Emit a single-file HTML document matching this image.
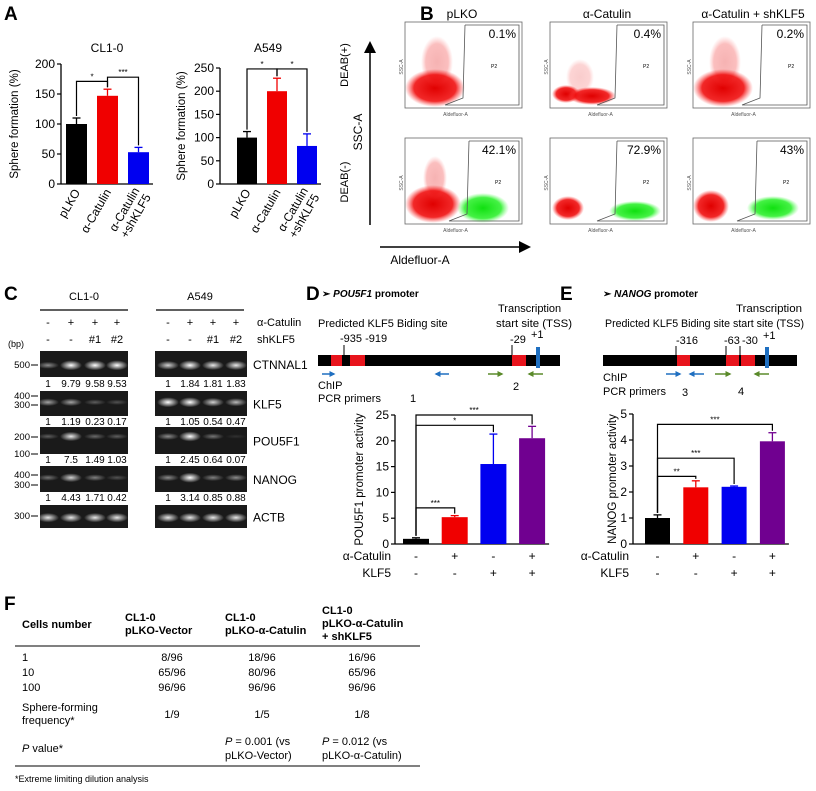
<!DOCTYPE html>
<html><head><meta charset="utf-8"><style>
body{margin:0;background:#fff}
svg{display:block;font-family:"Liberation Sans",Arial,sans-serif}
</style></head><body>
<svg id="fig" width="816" height="791" viewBox="0 0 816 791">
<defs>
<radialGradient id="rg"><stop offset="0" stop-color="#e00000" stop-opacity="1"/><stop offset="0.7" stop-color="#f01010" stop-opacity="0.9"/><stop offset="1" stop-color="#ff4040" stop-opacity="0"/></radialGradient>
<radialGradient id="gg"><stop offset="0" stop-color="#10e010" stop-opacity="1"/><stop offset="0.7" stop-color="#30f030" stop-opacity="0.9"/><stop offset="1" stop-color="#60ff60" stop-opacity="0"/></radialGradient>
<radialGradient id="band"><stop offset="0" stop-color="#fff" stop-opacity="1"/><stop offset="1" stop-color="#fff" stop-opacity="0"/></radialGradient>
<marker id="ah" markerWidth="8" markerHeight="8" refX="6" refY="4" orient="auto"><path d="M0,0 L8,4 L0,8 z" fill="#000"/></marker>
<marker id="ab" markerWidth="4" markerHeight="4" refX="3" refY="2" orient="auto"><path d="M0,0 L4,2 L0,4 z" fill="#1f6fc0"/></marker>
<marker id="ag" markerWidth="4" markerHeight="4" refX="3" refY="2" orient="auto"><path d="M0,0 L4,2 L0,4 z" fill="#5a8a2a"/></marker>
</defs>
<g font-weight="bold" font-size="19">
<text x="4" y="20">A</text>
<text x="420" y="20">B</text>
<text x="4" y="300">C</text>
<text x="306" y="300">D</text>
<text x="560" y="300">E</text>
<text x="4" y="610">F</text>
</g>
<g id="charts"></g>
<g id="flow"></g>
<g>
<line x1="370" y1="225" x2="370" y2="44" stroke="#000" stroke-width="1.5" marker-end="url(#ah)"/>
<line x1="380" y1="247" x2="528" y2="247" stroke="#000" stroke-width="1.5" marker-end="url(#ah)"/>
<text transform="translate(362,132) rotate(-90)" text-anchor="middle" font-size="12">SSC-A</text>
<text transform="translate(348,65) rotate(-90)" text-anchor="middle" font-size="11">DEAB(+)</text>
<text transform="translate(348,182) rotate(-90)" text-anchor="middle" font-size="11">DEAB(-)</text>
<text x="420" y="264" text-anchor="middle" font-size="12">Aldefluor-A</text>
<text x="462" y="18" text-anchor="middle" font-size="12">pLKO</text>
<text x="607" y="18" text-anchor="middle" font-size="12">α-Catulin</text>
<text x="753" y="18" text-anchor="middle" font-size="12">α-Catulin + shKLF5</text>
</g>
<g id="gelC" font-size="11">
<text x="84" y="300" text-anchor="middle">CL1-0</text>
<text x="200" y="300" text-anchor="middle">A549</text>
<line x1="40" y1="310" x2="128" y2="310" stroke="#000" stroke-width="1.2"/>
<line x1="156" y1="310" x2="244" y2="310" stroke="#000" stroke-width="1.2"/>
<text x="257" y="326">α-Catulin</text>
<text x="257" y="343">shKLF5</text>
<text x="8" y="347" font-size="9">(bp)</text>
</g>
<g font-size="11">
<text x="322" y="297" font-size="10" font-weight="bold">➢ <tspan font-style="italic">POU5F1</tspan> promoter</text>
<text x="498" y="312">Transcription</text>
<text x="496" y="327" textLength="76" lengthAdjust="spacingAndGlyphs">start site (TSS)</text>
<text x="318" y="327">Predicted KLF5 Biding site</text>
<text x="340" y="342">-935 -919</text>
<text x="510" y="343">-29</text>
<text x="531" y="338">+1</text>
<line x1="344" y1="345" x2="344" y2="356" stroke="#000"/>
<line x1="512" y1="345" x2="512" y2="356" stroke="#000"/>
<rect x="318" y="355" width="242" height="11" fill="#000"/>
<rect x="331" y="355" width="11" height="11" fill="#e8141c"/>
<rect x="350" y="355" width="15" height="11" fill="#e8141c"/>
<rect x="512" y="355" width="14" height="11" fill="#e8141c"/>
<rect x="536" y="347" width="4" height="21" fill="#1f6fc0"/>
<line x1="322" y1="374" x2="334" y2="374" stroke="#1f6fc0" stroke-width="1.5" marker-end="url(#ab)"/>
<line x1="449" y1="374" x2="436" y2="374" stroke="#1f6fc0" stroke-width="1.5" marker-end="url(#ab)"/>
<line x1="488" y1="374" x2="502" y2="374" stroke="#5a8a2a" stroke-width="1.5" marker-end="url(#ag)"/>
<line x1="543" y1="374" x2="529" y2="374" stroke="#5a8a2a" stroke-width="1.5" marker-end="url(#ag)"/>
<text x="318" y="389">ChIP</text>
<text x="318" y="402">PCR primers</text>
<text x="410" y="402">1</text>
<text x="513" y="390">2</text>
</g>
<g font-size="11">
<text x="603" y="297" font-size="10" font-weight="bold">➢ <tspan font-style="italic">NANOG</tspan> promoter</text>
<text x="736" y="312" textLength="66" lengthAdjust="spacingAndGlyphs">Transcription</text>
<text x="733" y="327" textLength="71" lengthAdjust="spacingAndGlyphs">start site (TSS)</text>
<text x="605" y="327" textLength="125" lengthAdjust="spacingAndGlyphs">Predicted KLF5 Biding site</text>
<text x="676" y="344">-316</text>
<text x="724" y="344">-63</text>
<text x="742" y="344">-30</text>
<text x="763" y="339">+1</text>
<line x1="676" y1="346" x2="676" y2="356" stroke="#000"/>
<line x1="726" y1="346" x2="726" y2="356" stroke="#000"/>
<line x1="740" y1="346" x2="740" y2="356" stroke="#000"/>
<rect x="603" y="355" width="194" height="11" fill="#000"/>
<rect x="677" y="355" width="13" height="11" fill="#e8141c"/>
<rect x="726" y="355" width="13" height="11" fill="#e8141c"/>
<rect x="741" y="355" width="14" height="11" fill="#e8141c"/>
<rect x="765" y="347" width="4" height="21" fill="#1f6fc0"/>
<line x1="666" y1="374" x2="680" y2="374" stroke="#1f6fc0" stroke-width="1.5" marker-end="url(#ab)"/>
<line x1="704" y1="374" x2="690" y2="374" stroke="#1f6fc0" stroke-width="1.5" marker-end="url(#ab)"/>
<line x1="715" y1="374" x2="730" y2="374" stroke="#5a8a2a" stroke-width="1.5" marker-end="url(#ag)"/>
<line x1="769" y1="374" x2="755" y2="374" stroke="#5a8a2a" stroke-width="1.5" marker-end="url(#ag)"/>
<text x="603" y="381">ChIP</text>
<text x="603" y="395">PCR primers</text>
<text x="682" y="396">3</text>
<text x="738" y="395">4</text>
</g>
<g font-size="11">
<text x="22" y="628" font-weight="bold">Cells number</text>
<text x="125" y="621" font-weight="bold">CL1-0</text>
<text x="125" y="634" font-weight="bold">pLKO-Vector</text>
<text x="225" y="621" font-weight="bold">CL1-0</text>
<text x="225" y="634" font-weight="bold">pLKO-α-Catulin</text>
<text x="322" y="614" font-weight="bold">CL1-0</text>
<text x="322" y="627" font-weight="bold">pLKO-α-Catulin</text>
<text x="322" y="640" font-weight="bold">+ shKLF5</text>
<line x1="15" y1="646" x2="420" y2="646" stroke="#000"/>
<text x="22" y="661">1</text><text x="172" y="661" text-anchor="middle">8/96</text><text x="262" y="661" text-anchor="middle">18/96</text><text x="362" y="661" text-anchor="middle">16/96</text>
<text x="22" y="676">10</text><text x="172" y="676" text-anchor="middle">65/96</text><text x="262" y="676" text-anchor="middle">80/96</text><text x="362" y="676" text-anchor="middle">65/96</text>
<text x="22" y="691">100</text><text x="172" y="691" text-anchor="middle">96/96</text><text x="262" y="691" text-anchor="middle">96/96</text><text x="362" y="691" text-anchor="middle">96/96</text>
<text x="22" y="711">Sphere-forming</text>
<text x="22" y="724">frequency*</text>
<text x="172" y="718" text-anchor="middle">1/9</text><text x="262" y="718" text-anchor="middle">1/5</text><text x="362" y="718" text-anchor="middle">1/8</text>
<text x="22" y="752"><tspan font-style="italic">P</tspan> value*</text>
<text x="225" y="745"><tspan font-style="italic">P</tspan> = 0.001 (vs</text>
<text x="225" y="759">pLKO-Vector)</text>
<text x="322" y="745"><tspan font-style="italic">P</tspan> = 0.012 (vs</text>
<text x="322" y="759">pLKO-α-Catulin)</text>
<line x1="15" y1="766" x2="420" y2="766" stroke="#000"/>
<text x="15" y="782" font-size="9">*Extreme limiting dilution analysis</text>
</g>
</svg>
<script>
const NS="http://www.w3.org/2000/svg";
function mk(p,tag,a,txt){const e=document.createElementNS(NS,tag);for(const k in a)e.setAttribute(k,a[k]);if(txt!==undefined)e.textContent=txt;p.appendChild(e);return e;}

const catA=["pLKO","α-Catulin","α-Catulin|+shKLF5"];
const cl10Values=[100,147,53];
const cl10Err=[10,11,8];
const cl10Ticks=[0,50,100,150,200];
const a549Values=[100,200,82];
const a549Err=[13,28,26];
const a549Ticks=[0,50,100,150,200,250];
const colorsA=["#000","#f00000","#0000f0"];
const pouValues=[1,5.2,15.5,20.5];
const pouErr=[0.2,0.3,5.8,2.3];
const pouTicks=[0,5,10,15,20,25];
const nanogValues=[1,2.18,2.2,3.95];
const nanogErr=[0.12,0.25,0.03,0.33];
const nanogTicks=[0,1,2,3,4,5];
const colorsDE=["#000","#f00000","#0000f0","#700090"];
const catulinSigns=["-","+","-","+"];
const klf5Signs=["-","-","+","+"];

const charts=document.getElementById("charts");
function barChart(cfg){
  const g=mk(charts,"g",{});
  
  
  const yScale=v=>cfg.y0-(v/cfg.max)*(cfg.y0-cfg.yTop);
  const xC=i=>cfg.x0+cfg.pad+cfg.step*i+cfg.bw/2;
  mk(g,"line",{x1:cfg.ax,y1:cfg.yTop,x2:cfg.ax,y2:cfg.y0,stroke:"#000","stroke-width":1.3});
  mk(g,"line",{x1:cfg.ax,y1:cfg.y0,x2:xC(cfg.values.length-1)+cfg.bw/2+4,y2:cfg.y0,stroke:"#000","stroke-width":1.3});
  cfg.ticks.forEach(t=>{
    const y=yScale(t);
    mk(g,"line",{x1:cfg.ax-4,y1:y,x2:cfg.ax,y2:y,stroke:"#000","stroke-width":1.2});
    const tl=mk(g,"text",{x:cfg.ax-6,y:y+4,"text-anchor":"end","font-size":12},t);
    
    
  });
  const yt=mk(g,"text",{transform:`translate(${cfg.ytX},${(cfg.y0+cfg.yTop)/2}) rotate(-90)`,"text-anchor":"middle","font-size":11.5},cfg.ytitle);
  
  
  cfg.values.forEach((v,i)=>{
    const x=xC(i);
    const top=yScale(v+cfg.err[i]);
    mk(g,"line",{x1:x,y1:yScale(v),x2:x,y2:top,stroke:cfg.colors[i],"stroke-width":1.3});
    mk(g,"line",{x1:x-4,y1:top,x2:x+4,y2:top,stroke:cfg.colors[i],"stroke-width":1.3});
    const r=mk(g,"rect",{x:x-cfg.bw/2,y:yScale(v),width:cfg.bw,height:cfg.y0-yScale(v),fill:cfg.colors[i]});
    
    
  });
  (cfg.brackets||[]).forEach(b=>{
    const y=yScale(b[2]);const x1=xC(b[0]),x2=xC(b[1]);
    const y1=yScale(cfg.values[b[0]]+cfg.err[b[0]])-2,y2=yScale(cfg.values[b[1]]+cfg.err[b[1]])-2;
    mk(g,"path",{d:`M${x1},${y1} V${y} H${x2} V${y2}`,fill:"none",stroke:"#000","stroke-width":1.2});
    mk(g,"text",{x:(x1+x2)/2,y:y-2,"text-anchor":"middle","font-size":8},b[3]);
  });
  if(cfg.cats){
    cfg.cats.forEach((c,i)=>{
      const parts=c.split("|");
      const t=mk(g,"text",{transform:`translate(${xC(i)+4},${cfg.y0+8}) rotate(-60)`,"text-anchor":"end","font-size":12});
      
      
      parts.forEach((p,j)=>mk(t,"tspan",{x:0,dy:j?13:(parts.length>1?-3:0)},p));
    });
  }
  if(cfg.signs){
    cfg.signs.forEach((row,r)=>{
      const y=cfg.y0+16+r*17;
      mk(g,"text",{x:cfg.ax-4,y:y,"text-anchor":"end","font-size":12},r?"KLF5":"α-Catulin");
      row.forEach((s,i)=>mk(g,"text",{x:xC(i),y:y,"text-anchor":"middle","font-size":12},s));
    });
  }
  if(cfg.title)mk(g,"text",{x:cfg.titleX,y:cfg.titleY,"text-anchor":"middle","font-size":12},cfg.title);
}
barChart({name:"cl10-sphere-chart",values:cl10Values,err:cl10Err,ticks:cl10Ticks,max:200,ax:61,x0:61,pad:5,step:31,bw:21,y0:184,yTop:64,colors:colorsA,cats:catA,ytX:18,ytitle:"Sphere formation (%)",title:"CL1-0",titleX:107,titleY:52,brackets:[[0,1,171,"*"],[1,2,178,"***"]]});
barChart({name:"a549-sphere-chart",values:a549Values,err:a549Err,ticks:a549Ticks,max:250,ax:220,x0:220,pad:17,step:30,bw:20,y0:184,yTop:68,colors:colorsA,cats:catA,ytX:185,ytitle:"Sphere formation (%)",title:"A549",titleX:268,titleY:52,brackets:[[0,1,248,"*"],[1,2,248,"*"]]});
barChart({name:"pou5f1-activity-chart",values:pouValues,err:pouErr,ticks:pouTicks,max:25,ax:395,x0:395,pad:8,step:38.7,bw:26,y0:544,yTop:415,colors:colorsDE,ytX:363,ytitle:"POU5F1 promoter activity",signs:[catulinSigns,klf5Signs],brackets:[[0,1,7,"***"],[0,2,23,"*"],[0,3,25,"***"]]});
barChart({name:"nanog-activity-chart",values:nanogValues,err:nanogErr,ticks:nanogTicks,max:5,ax:633,x0:633,pad:12,step:38.3,bw:25,y0:544,yTop:414,colors:colorsDE,ytX:616,ytitle:"NANOG promoter activity",signs:[catulinSigns,klf5Signs],brackets:[[0,1,2.6,"**"],[0,2,3.3,"***"],[0,3,4.6,"***"]]});

const flow=document.getElementById("flow");
const boxesX=[405,550,693],boxesY=[22,138];
const pcts=[["0.1%","0.4%","0.2%"],["42.1%","72.9%","43%"]];
const gateOff=[[58,65,67],[62,65,62]];
for(let r=0;r<2;r++)for(let c=0;c<3;c++){
  const x=boxesX[c],y=boxesY[r],w=117,h=86;
  const g=mk(flow,"g",{});
  
  
  mk(g,"rect",{x:x,y:y,width:w,height:h,fill:"#fff",stroke:"#666","stroke-width":0.8});
  if(r===0){
    if(c===1){mk(g,"ellipse",{cx:x+16,cy:y+72,rx:14,ry:9,fill:"url(#rg)"});mk(g,"ellipse",{cx:x+42,cy:y+74,rx:24,ry:9,fill:"url(#rg)"});mk(g,"ellipse",{cx:x+30,cy:y+55,rx:14,ry:18,fill:"url(#rg)",opacity:0.2});}
    else {mk(g,"ellipse",{cx:x+30,cy:y+66,rx:30,ry:19,fill:"url(#rg)"});mk(g,"ellipse",{cx:x+32,cy:y+40,rx:16,ry:26,fill:"url(#rg)",opacity:0.3});}
  } else {
    if(c===1){mk(g,"ellipse",{cx:x+18,cy:y+70,rx:16,ry:12,fill:"url(#rg)"});mk(g,"ellipse",{cx:x+85,cy:y+73,rx:26,ry:10,fill:"url(#gg)"});}
    else if(c===0){mk(g,"ellipse",{cx:x+28,cy:y+66,rx:28,ry:19,fill:"url(#rg)"});mk(g,"ellipse",{cx:x+30,cy:y+40,rx:12,ry:22,fill:"url(#rg)",opacity:0.3});mk(g,"ellipse",{cx:x+78,cy:y+70,rx:26,ry:15,fill:"url(#gg)"});}
    else {mk(g,"ellipse",{cx:x+18,cy:y+68,rx:18,ry:16,fill:"url(#rg)"});mk(g,"ellipse",{cx:x+80,cy:y+70,rx:26,ry:12,fill:"url(#gg)"});}
  }
  const gx=x+gateOff[r][c];
  mk(g,"path",{d:`M${gx+2},${y+3} L${gx},${y+76} L${gx-18},${y+83} M${gx+2},${y+3} H${x+w-3} V${y+83} H${gx-18}`,fill:"none",stroke:"#555","stroke-width":0.8});
  mk(g,"text",{x:x+w-6,y:y+16,"text-anchor":"end","font-size":12},pcts[r][c]);
  mk(g,"text",{x:gx+28,y:y+46,"font-size":5},"P2");
  mk(g,"text",{transform:`translate(${x-2},${y+45}) rotate(-90)`,"text-anchor":"middle","font-size":5,fill:"#555"},"SSC-A");
  mk(g,"text",{x:x+w/2-8,y:y+h+8,"text-anchor":"middle","font-size":5,fill:"#555"},"Aldefluor-A");
}

const gel=document.getElementById("gelC");
const laneCL=[48,71,95,117],laneA=[168,190,213,236];
const sign1=["-","+","+","+"],sign2=["-","-","#1","#2"];
[laneCL,laneA].forEach(L=>L.forEach((x,i)=>{mk(gel,"text",{x:x,y:326,"text-anchor":"middle"},sign1[i]);mk(gel,"text",{x:x,y:343,"text-anchor":"middle"},sign2[i]);}));
const rows=[
 {y:351,h:26,label:"CTNNAL1",ny:387,nCL:["1","9.79","9.58","9.53"],nA:["1","1.84","1.81","1.83"],bCL:[0.5,1,1,1],bA:[0.8,1,0.9,0.9],by:0.55},
 {y:391,h:25,label:"KLF5",ny:425,nCL:["1","1.19","0.23","0.17"],nA:["1","1.05","0.54","0.47"],bCL:[0.6,0.6,0.3,0.25],bA:[1,1,0.8,0.7],by:0.45},
 {y:427,h:27,label:"POU5F1",ny:463,nCL:["1","7.5","1.49","1.03"],nA:["1","2.45","0.64","0.07"],bCL:[0.3,0.9,0.35,0.3],bA:[0.5,1,0.4,0.1],by:0.35},
 {y:466,h:26,label:"NANOG",ny:501,nCL:["1","4.43","1.71","0.42"],nA:["1","3.14","0.85","0.88"],bCL:[0.4,0.8,0.45,0.25],bA:[0.5,1,0.45,0.5],by:0.45},
 {y:505,h:23,label:"ACTB",ny:0,bCL:[0.9,0.9,0.9,0.9],bA:[0.9,0.9,0.9,0.9],by:0.55}];
rows.forEach(r=>{
  [[40,laneCL,r.bCL,r.nCL],[155,laneA,r.bA,r.nA]].forEach(([gx,L,b,n])=>{
    const rr=mk(gel,"rect",{x:gx,y:r.y,width:gx===40?88:92,height:r.h,fill:"#1a1a1a"});
    
    
    L.forEach((x,i)=>{
      mk(gel,"ellipse",{cx:x,cy:r.y+r.h*r.by,rx:11,ry:2+3*b[i],fill:"url(#band)",opacity:b[i]});
      if(n)mk(gel,"text",{x:x,y:r.ny,"text-anchor":"middle","font-size":10},n[i]);
    });
  });
  mk(gel,"text",{x:253,y:r.y+r.h/2+5,"font-size":12},r.label);
});
[["500",365],["400",396],["300",405],["200",437],["100",454],["400",475],["300",485],["300",516]].forEach(([t,y])=>{
  mk(gel,"text",{x:30,y:y+3,"text-anchor":"end","font-size":9.5},t);
  mk(gel,"line",{x1:31,y1:y,x2:38,y2:y,stroke:"#000"});
});
</script>
</body></html>
